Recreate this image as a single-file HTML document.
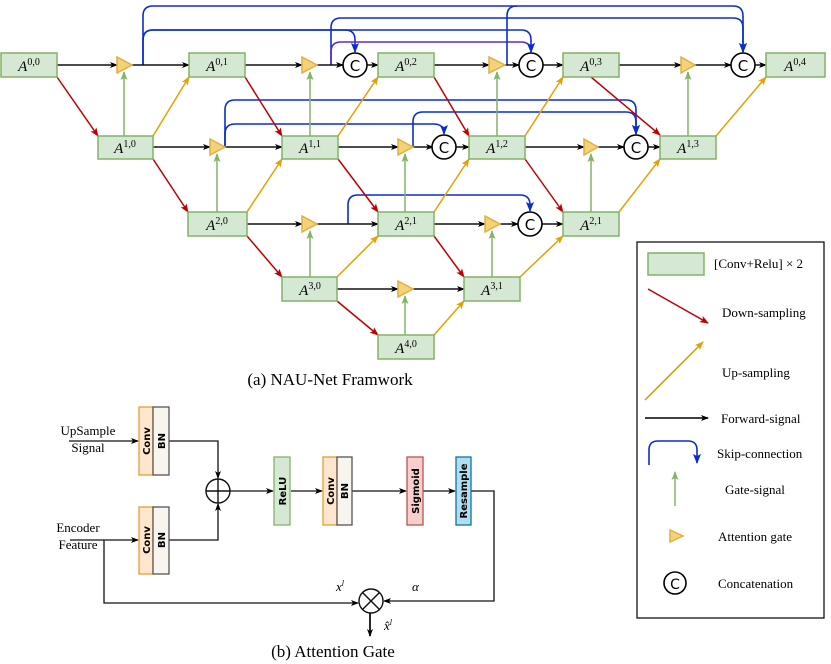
<!DOCTYPE html>
<html><head><meta charset="utf-8"><style>
html,body{margin:0;padding:0;background:#fff;}
svg{display:block;}
.lab{font-family:"Liberation Serif",serif;font-style:italic;font-size:15px;}
.t{font-family:"Liberation Serif",serif;font-size:13px;}
.v{font-family:"DejaVu Sans",sans-serif;font-weight:bold;font-size:10px;}
</style></head><body>
<svg width="831" height="664" viewBox="0 0 831 664" xmlns="http://www.w3.org/2000/svg">
<defs>
<marker id="mk" markerWidth="8" markerHeight="8" refX="7" refY="4" orient="auto" markerUnits="userSpaceOnUse"><path d="M0,1 L8,4 L0,7 L2,4z" fill="#000"/></marker>
<marker id="mr" markerWidth="9" markerHeight="9" refX="8" refY="4.5" orient="auto" markerUnits="userSpaceOnUse"><path d="M0,1 L9,4.5 L0,8 L2,4.5z" fill="#c00000"/></marker>
<marker id="mo" markerWidth="9" markerHeight="9" refX="8" refY="4.5" orient="auto" markerUnits="userSpaceOnUse"><path d="M0,1 L9,4.5 L0,8 L2,4.5z" fill="#e6a000"/></marker>
<marker id="mg" markerWidth="9" markerHeight="9" refX="8" refY="4.5" orient="auto" markerUnits="userSpaceOnUse"><path d="M0,1 L9,4.5 L0,8 L2,4.5z" fill="#82b366"/></marker>
<marker id="mb" markerWidth="10" markerHeight="10" refX="9" refY="5" orient="auto" markerUnits="userSpaceOnUse"><path d="M0,1 L10,5 L0,9 L2,5z" fill="#0a2fc9"/></marker>
</defs>

<g fill="none" stroke="#0a2fc9" stroke-width="1.6" marker-end="url(#mb)">
<path d="M143,65 V16 Q143,6 153,6 H733 Q743,6 743,16 V52"/>
<path d="M143,65 V40 Q143,30 153,30 H345 Q355,30 355,40 V52"/>
<path d="M143,40 Q143,30 153,30 H521 Q531,30 531,40 V52"/>
<path d="M331,65 V28 Q331,18 341,18 H733 Q743,18 743,28 V52"/>
<path d="M331,65 V52 Q331,42 341,42 H521 Q531,42 531,52" stroke="#5a2bc9"/>
<path d="M507,65 V16 Q507,6 517,6" marker-end="none"/>
<path d="M225,147 V110 Q225,100 235,100 H626 Q636,100 636,110 V134"/>
<path d="M225,147 V134 Q225,124 235,124 H434 Q444,124 444,134"/>
<path d="M413,147 V122 Q413,112 423,112 H626 Q636,112 636,122 V134"/>
<path d="M348,224 V205 Q348,195 358,195 H520 Q530,195 530,205 V211"/>
</g>

<g stroke="#111" stroke-width="1.5" marker-end="url(#mk)">
<line x1="57" y1="65" x2="117" y2="65"/><line x1="132" y1="65" x2="189" y2="65"/>
<line x1="245" y1="65" x2="302" y2="65"/><line x1="317" y1="65" x2="343" y2="65"/>
<line x1="367" y1="65" x2="378" y2="65"/><line x1="434" y1="65" x2="489" y2="65"/>
<line x1="505" y1="65" x2="519" y2="65"/><line x1="543" y1="65" x2="563" y2="65"/>
<line x1="619" y1="65" x2="681" y2="65"/><line x1="695" y1="65" x2="731" y2="65"/>
<line x1="755" y1="65" x2="766" y2="65"/>
<line x1="153" y1="147" x2="210" y2="147"/><line x1="225" y1="147" x2="282" y2="147"/>
<line x1="338" y1="147" x2="398" y2="147"/><line x1="413" y1="147" x2="433" y2="147"/>
<line x1="456" y1="147" x2="469" y2="147"/><line x1="525" y1="147" x2="584" y2="147"/>
<line x1="598" y1="147" x2="624" y2="147"/><line x1="648" y1="147" x2="660" y2="147"/>
<line x1="247" y1="224" x2="302" y2="224"/><line x1="317" y1="224" x2="378" y2="224"/>
<line x1="434" y1="224" x2="485" y2="224"/><line x1="500" y1="224" x2="518" y2="224"/>
<line x1="542" y1="224" x2="563" y2="224"/>
<line x1="337" y1="289" x2="398" y2="289"/><line x1="413" y1="289" x2="464" y2="289"/>
</g>

<g stroke="#c00000" stroke-width="1.5" marker-end="url(#mr)">
<line x1="57" y1="77" x2="98" y2="136"/><line x1="153" y1="159" x2="188" y2="212"/>
<line x1="245" y1="77" x2="282" y2="136"/><line x1="338" y1="159" x2="378" y2="212"/>
<line x1="434" y1="77" x2="469" y2="136"/><line x1="525" y1="159" x2="563" y2="212"/>
<line x1="591" y1="77" x2="660" y2="135"/><line x1="247" y1="236" x2="282" y2="277"/>
<line x1="434" y1="236" x2="464" y2="277"/><line x1="337" y1="301" x2="378" y2="335"/>
</g>
<g stroke="#e6a000" stroke-width="1.5" marker-end="url(#mo)">
<line x1="153" y1="136" x2="189" y2="77"/><line x1="247" y1="212" x2="282" y2="159"/>
<line x1="338" y1="136" x2="378" y2="77"/><line x1="337" y1="277" x2="378" y2="236"/>
<line x1="525" y1="136" x2="563" y2="77"/><line x1="434" y1="212" x2="469" y2="159"/>
<line x1="434" y1="335" x2="464" y2="301"/><line x1="520" y1="277" x2="563" y2="236"/>
<line x1="619" y1="212" x2="660" y2="159"/><line x1="716" y1="136" x2="766" y2="77"/>
</g>
<g stroke="#82b366" stroke-width="1.5" marker-end="url(#mg)">
<line x1="124" y1="136" x2="124" y2="72"/><line x1="310" y1="136" x2="310" y2="72"/>
<line x1="497" y1="136" x2="497" y2="72"/><line x1="688" y1="136" x2="688" y2="72"/>
<line x1="217" y1="212" x2="217" y2="154"/><line x1="405" y1="212" x2="405" y2="154"/>
<line x1="591" y1="212" x2="591" y2="154"/><line x1="310" y1="277" x2="310" y2="231"/>
<line x1="492" y1="277" x2="492" y2="231"/><line x1="405" y1="335" x2="405" y2="296"/>
</g>

<g fill="#f5d27a" stroke="#e0b040" stroke-width="1.5">
<polygon points="117,57 117,73 132,65"/><polygon points="302,57 302,73 317,65"/>
<polygon points="489,57 489,73 505,65"/><polygon points="681,57 681,73 695,65"/>
<polygon points="210,139 210,155 225,147"/><polygon points="398,139 398,155 413,147"/>
<polygon points="584,139 584,155 598,147"/>
<polygon points="302,216 302,232 317,224"/><polygon points="485,216 485,232 500,224"/>
<polygon points="398,281 398,297 413,289"/>
</g>
<g fill="#fff" stroke="#000" stroke-width="1.6">
<circle cx="355" cy="65" r="12"/><circle cx="531" cy="65" r="12"/><circle cx="743" cy="65" r="12"/>
<circle cx="444" cy="147" r="12"/><circle cx="636" cy="147" r="12"/><circle cx="530" cy="224" r="12"/>
</g>
<g font-family="DejaVu Sans,sans-serif" font-size="15" text-anchor="middle">
<text x="355" y="71">C</text><text x="531" y="71">C</text><text x="743" y="71">C</text>
<text x="444" y="153">C</text><text x="636" y="153">C</text><text x="530" y="230">C</text>
</g>

<g fill="#d5e8d4" stroke="#82b366" stroke-width="1.5">
<rect x="1" y="53" width="56" height="24"/><rect x="189" y="53" width="56" height="24"/>
<rect x="378" y="53" width="56" height="24"/><rect x="563" y="53" width="56" height="24"/>
<rect x="766" y="53" width="59" height="24"/>
<rect x="98" y="136" width="55" height="23"/><rect x="282" y="136" width="56" height="23"/>
<rect x="469" y="136" width="56" height="23"/><rect x="660" y="136" width="56" height="23"/>
<rect x="188" y="212" width="59" height="24"/><rect x="378" y="212" width="56" height="24"/>
<rect x="563" y="212" width="56" height="24"/>
<rect x="282" y="277" width="55" height="24"/><rect x="464" y="277" width="56" height="24"/>
<rect x="378" y="335" width="56" height="24"/>
</g>
<g class="lab" text-anchor="middle">
<text x="29" y="71">A<tspan font-size="10" font-style="normal" dy="-6">0,0</tspan></text>
<text x="217" y="71">A<tspan font-size="10" font-style="normal" dy="-6">0,1</tspan></text>
<text x="406" y="71">A<tspan font-size="10" font-style="normal" dy="-6">0,2</tspan></text>
<text x="591" y="71">A<tspan font-size="10" font-style="normal" dy="-6">0,3</tspan></text>
<text x="795" y="71">A<tspan font-size="10" font-style="normal" dy="-6">0,4</tspan></text>
<text x="125" y="153">A<tspan font-size="10" font-style="normal" dy="-6">1,0</tspan></text>
<text x="310" y="153">A<tspan font-size="10" font-style="normal" dy="-6">1,1</tspan></text>
<text x="497" y="153">A<tspan font-size="10" font-style="normal" dy="-6">1,2</tspan></text>
<text x="688" y="153">A<tspan font-size="10" font-style="normal" dy="-6">1,3</tspan></text>
<text x="217" y="230">A<tspan font-size="10" font-style="normal" dy="-6">2,0</tspan></text>
<text x="406" y="230">A<tspan font-size="10" font-style="normal" dy="-6">2,1</tspan></text>
<text x="591" y="230">A<tspan font-size="10" font-style="normal" dy="-6">2,1</tspan></text>
<text x="310" y="295">A<tspan font-size="10" font-style="normal" dy="-6">3,0</tspan></text>
<text x="492" y="295">A<tspan font-size="10" font-style="normal" dy="-6">3,1</tspan></text>
<text x="406" y="353">A<tspan font-size="10" font-style="normal" dy="-6">4,0</tspan></text>
</g>
<text x="330" y="385" font-family="Liberation Serif,serif" font-size="17" text-anchor="middle">(a) NAU-Net Framwork</text>

<rect x="637" y="242" width="187" height="376" fill="none" stroke="#000" stroke-width="1.2"/>
<rect x="648" y="253" width="56" height="22" fill="#d5e8d4" stroke="#82b366" stroke-width="1.5"/>
<text x="714" y="268" class="t">[Conv+Relu]  × 2</text>
<line x1="648" y1="289" x2="708" y2="323" stroke="#c00000" stroke-width="1.5" marker-end="url(#mr)"/>
<text x="722" y="317" class="t">Down-sampling</text>
<line x1="645" y1="400" x2="703" y2="342" stroke="#c8a000" stroke-width="1.5" marker-end="url(#mo)"/>
<text x="722" y="377" class="t">Up-sampling</text>
<line x1="645" y1="418" x2="708" y2="418" stroke="#000" stroke-width="1.5" marker-end="url(#mk)"/>
<text x="721" y="423" class="t">Forward-signal</text>
<path d="M649,465 V450 Q649,441 658,441 H688 Q697,441 697,450 V463" fill="none" stroke="#0a2fc9" stroke-width="1.6" marker-end="url(#mb)"/>
<text x="717" y="458" class="t">Skip-connection</text>
<line x1="675" y1="506" x2="675" y2="472" stroke="#82b366" stroke-width="1.5" marker-end="url(#mg)"/>
<text x="725" y="494" class="t">Gate-signal</text>
<polygon points="670,530 670,542 683,536" fill="#f5d27a" stroke="#e0b040" stroke-width="1.5"/>
<text x="718" y="541" class="t">Attention gate</text>
<circle cx="675" cy="583" r="11" fill="#fff" stroke="#000" stroke-width="1.6"/>
<text x="675" y="589" font-family="DejaVu Sans,sans-serif" font-size="14" text-anchor="middle">C</text>
<text x="718" y="588" class="t">Concatenation</text>

<g stroke="#111" stroke-width="1.3" fill="none">
<line x1="69" y1="441" x2="138" y2="441" marker-end="url(#mk)"/>
<line x1="70" y1="540" x2="138" y2="540" marker-end="url(#mk)"/>
<polyline points="169,441 218,441 218,478" marker-end="url(#mk)"/>
<polyline points="169,540 218,540 218,504" marker-end="url(#mk)"/>
<line x1="230" y1="491" x2="273" y2="491" marker-end="url(#mk)"/>
<line x1="291" y1="491" x2="322" y2="491" marker-end="url(#mk)"/>
<line x1="352" y1="491" x2="406" y2="491" marker-end="url(#mk)"/>
<line x1="423" y1="491" x2="455" y2="491" marker-end="url(#mk)"/>
<polyline points="471,491 494,491 494,601 384,601" marker-end="url(#mk)"/>
<polyline points="104,540 104,603 358,603" marker-end="url(#mk)"/>
<line x1="370" y1="613" x2="370" y2="636" stroke-width="1.8" marker-end="url(#mk)"/>
</g>
<g stroke="#111" stroke-width="1.4" fill="#fff">
<circle cx="218" cy="491" r="12"/><line x1="206" y1="491" x2="230" y2="491"/><line x1="218" y1="479" x2="218" y2="503"/>
<circle cx="371" cy="601" r="12"/><line x1="362.5" y1="592.5" x2="379.5" y2="609.5"/><line x1="379.5" y1="592.5" x2="362.5" y2="609.5"/>
</g>
<g stroke-width="1.3">
<rect x="139" y="407" width="14" height="68" fill="#ffe6cc" stroke="#e0a030"/>
<rect x="153" y="407" width="16" height="68" fill="#f7f5ee" stroke="#555"/>
<rect x="139" y="507" width="14" height="67" fill="#ffe6cc" stroke="#e0a030"/>
<rect x="153" y="507" width="16" height="67" fill="#f7f5ee" stroke="#555"/>
<rect x="274" y="457" width="16" height="68" fill="#d5e8d4" stroke="#82b366"/>
<rect x="323" y="457" width="14" height="68" fill="#ffe6cc" stroke="#e0a030"/>
<rect x="337" y="457" width="15" height="68" fill="#f7f5ee" stroke="#555"/>
<rect x="407" y="457" width="16" height="68" fill="#f8cecc" stroke="#b85450"/>
<rect x="456" y="457" width="15" height="68" fill="#b1ddf0" stroke="#10739e"/>
</g>
<g class="v" text-anchor="middle">
<text transform="translate(150,441) rotate(-90)">Conv</text>
<text transform="translate(165,441) rotate(-90)">BN</text>
<text transform="translate(150,540) rotate(-90)">Conv</text>
<text transform="translate(165,540) rotate(-90)">BN</text>
<text transform="translate(286,491) rotate(-90)">ReLU</text>
<text transform="translate(334,491) rotate(-90)">Conv</text>
<text transform="translate(348,491) rotate(-90)">BN</text>
<text transform="translate(419,491) rotate(-90)">Sigmoid</text>
<text transform="translate(467,491) rotate(-90)">Resample</text>
</g>
<g font-family="Liberation Serif,serif" font-size="13" text-anchor="middle">
<text x="88" y="435">UpSample</text><text x="88" y="452">Signal</text>
<text x="78" y="532">Encoder</text><text x="78" y="549">Feature</text>
</g>
<g font-family="Liberation Serif,serif" font-style="italic" font-size="13">
<text x="336" y="591">x<tspan font-size="8" dy="-5">l</tspan></text>
<text x="412" y="591">α</text>
<text x="384" y="630">x̂<tspan font-size="8" dy="-5">l</tspan></text>
</g>
<text x="333" y="657" font-family="Liberation Serif,serif" font-size="17" text-anchor="middle">(b) Attention Gate</text>
</svg>
</body></html>
